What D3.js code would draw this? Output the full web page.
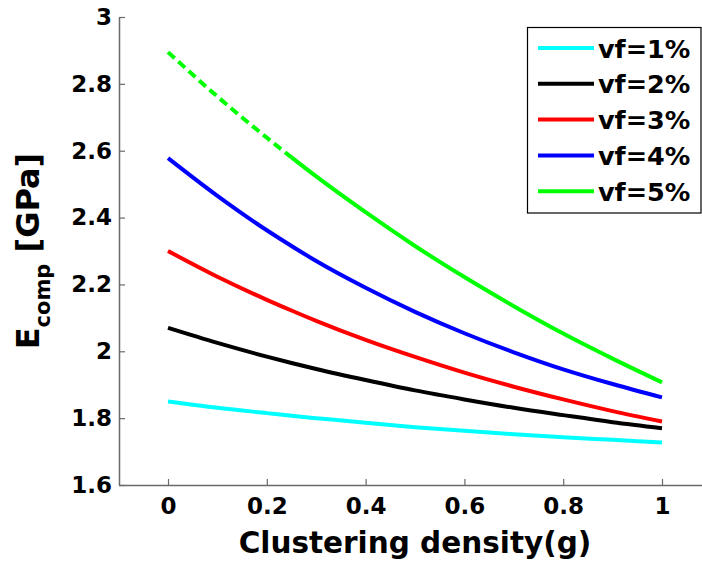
<!DOCTYPE html>
<html>
<head>
<meta charset="utf-8">
<script src="https://cdn.jsdelivr.net/npm/d3@7"></script>
<style>
  html, body { margin: 0; padding: 0; background: #fff; }
  svg { display: block; font-family: "DejaVu Sans", sans-serif; font-weight: bold; }
</style>
</head>
<body>
<svg id="chart" width="702" height="562"></svg>
<script>
// ---- data ----
const gValues = [0, 0.1, 0.2, 0.25, 0.3, 0.4, 0.5, 0.6, 0.7, 0.8, 0.9, 1.0];
const vf1 = [1.850, 1.831, 1.815, 1.807, 1.800, 1.786, 1.773, 1.762, 1.752, 1.743, 1.735, 1.727];
const vf2 = [2.070, 2.025, 1.984, 1.965, 1.947, 1.914, 1.883, 1.856, 1.831, 1.809, 1.788, 1.770];
const vf3 = [2.300, 2.223, 2.154, 2.122, 2.091, 2.034, 1.983, 1.936, 1.894, 1.856, 1.821, 1.790];
const vf4 = [2.578, 2.465, 2.362, 2.315, 2.270, 2.190, 2.118, 2.054, 1.997, 1.946, 1.902, 1.862];
const vf5 = [2.895, 2.762, 2.639, 2.580, 2.523, 2.416, 2.315, 2.222, 2.135, 2.053, 1.978, 1.907];
const seriesNames = ["vf=1%", "vf=2%", "vf=3%", "vf=4%", "vf=5%"];
const seriesColors = ["#00ffff", "#000000", "#ff0000", "#0000ff", "#00ff00"];
const greenDashedUntil = 0.25;   // green curve drawn dashed for g <= this
const xTicks = [0, 0.2, 0.4, 0.6, 0.8, 1];
const xTickLabels = ["0", "0.2", "0.4", "0.6", "0.8", "1"];
const yTicks = [1.6, 1.8, 2.0, 2.2, 2.4, 2.6, 2.8, 3.0];
const yTickLabels = ["1.6", "1.8", "2", "2.2", "2.4", "2.6", "2.8", "3"];
const xDomain = [-0.1, 1.1];
const yDomain = [1.6, 3.0];

const allSeries = [vf1, vf2, vf3, vf4, vf5];

// ---- drawing ----
const svg = d3.select("#chart");
const x = d3.scaleLinear().domain(xDomain).range([118.6, 711.4]);
const y = d3.scaleLinear().domain(yDomain).range([485, 17]);

const axisColor = "#6a6a6a";

const gx = svg.append("g").attr("transform", "translate(0,485)")
  .call(d3.axisBottom(x).tickValues(xTicks)
    .tickFormat((d, i) => xTickLabels[i])
    .tickSizeInner(-6).tickSizeOuter(0).tickPadding(13));
const gy = svg.append("g").attr("transform", "translate(119,0)")
  .call(d3.axisLeft(y).tickValues(yTicks)
    .tickFormat((d, i) => yTickLabels[i])
    .tickSizeInner(-6).tickSizeOuter(0).tickPadding(7));

[gx, gy].forEach(g => {
  g.select(".domain").attr("stroke", axisColor).attr("stroke-width", 1.5);
  g.selectAll(".tick line").attr("stroke", axisColor).attr("stroke-width", 1.2);
  g.selectAll(".tick text").attr("fill", "#000")
    .style("font-family", "'DejaVu Sans', sans-serif")
    .style("font-weight", "bold").style("font-size", "23px");
});

const line = d3.line()
  .x(d => x(d[0])).y(d => y(d[1]))
  .curve(d3.curveMonotoneX);

allSeries.forEach((vals, si) => {
  const pts = gValues.map((g, i) => [g, vals[i]]);
  if (si === 4) {
    const dashed = pts.filter(p => p[0] <= greenDashedUntil);
    const solid = pts.filter(p => p[0] >= greenDashedUntil);
    svg.append("path").attr("d", line(dashed)).attr("fill", "none")
      .attr("stroke", seriesColors[si]).attr("stroke-width", 4)
      .attr("stroke-dasharray", "9,5");
    svg.append("path").attr("d", line(solid)).attr("fill", "none")
      .attr("stroke", seriesColors[si]).attr("stroke-width", 4);
  } else {
    svg.append("path").attr("d", line(pts)).attr("fill", "none")
      .attr("stroke", seriesColors[si]).attr("stroke-width", 4);
  }
});

// axis labels
svg.append("text")
  .attr("x", x(0.5)).attr("y", 553)
  .attr("text-anchor", "middle")
  .style("font-size", "29.5px")
  .text("Clustering density(g)");

const yl = svg.append("text")
  .attr("transform", "translate(39,251) rotate(-90)")
  .attr("text-anchor", "middle")
  .style("font-size", "32px");
yl.append("tspan").text("E");
yl.append("tspan").attr("dy", 11).style("font-size", "21px").text("comp");
yl.append("tspan").attr("dy", -11).text(" [GPa]");

// legend
const lg = svg.append("g");
lg.append("rect").attr("x", 527.5).attr("y", 27.5).attr("width", 173.5).attr("height", 185.5)
  .attr("fill", "#fff").attr("stroke", "#000").attr("stroke-width", 1.2);
seriesNames.forEach((name, i) => {
  const cy = 48 + i * 35.8;
  lg.append("line").attr("x1", 538).attr("x2", 594).attr("y1", cy).attr("y2", cy)
    .attr("stroke", seriesColors[i]).attr("stroke-width", 4);
  lg.append("text").attr("x", 598).attr("y", cy + 9.5)
    .style("font-size", "25.5px").text(name);
});
</script>
</body>
</html>
